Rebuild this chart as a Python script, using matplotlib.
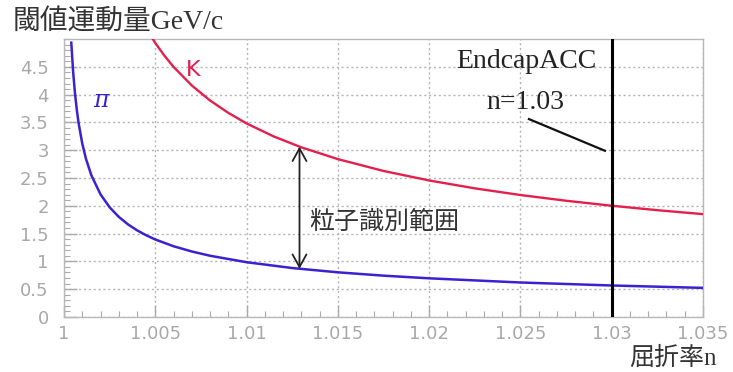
import matplotlib

matplotlib.use("Agg")
import matplotlib.pyplot as plt
from matplotlib.ticker import MultipleLocator, FuncFormatter

JP = ["Liberation Serif", "Noto Sans CJK JP"]

# 屈折率 n と閾値運動量 (GeV/c), 図から読み取り
n_pi = [1.0004, 1.0005, 1.0006, 1.0007, 1.0008, 1.001, 1.0012, 1.0015, 1.002,
        1.0025, 1.003, 1.0035, 1.004, 1.0045, 1.005, 1.006, 1.007, 1.008, 1.010,
        1.0125, 1.015, 1.0175, 1.02, 1.025, 1.03, 1.035]
p_pi = [4.935, 4.414, 4.029, 3.730, 3.489, 3.121, 2.849, 2.548, 2.206,
        1.973, 1.801, 1.667, 1.559, 1.470, 1.394, 1.272, 1.178, 1.101, 0.985,
        0.880, 0.803, 0.743, 0.695, 0.620, 0.566, 0.523]

n_k = [1.0048, 1.005, 1.0055, 1.006, 1.007, 1.008, 1.009, 1.010, 1.0115,
       1.013, 1.015, 1.0175, 1.02, 1.0225, 1.025, 1.0275, 1.03, 1.0325, 1.035]
p_k = [5.033, 4.931, 4.701, 4.500, 4.165, 3.895, 3.672, 3.482, 3.246,
       3.052, 2.840, 2.627, 2.456, 2.314, 2.194, 2.091, 2.001, 1.921, 1.850]

y_ticks = [0, 0.5, 1, 1.5, 2, 2.5, 3, 3.5, 4, 4.5]

n_acc = 1.03
n_range = 1.0129          # 粒子識別範囲の矢印位置
range_lo, range_hi = 0.866, 3.064

fig = plt.figure(figsize=(7.33, 3.72), dpi=100)
ax = fig.add_axes([0.0873, 0.148, 0.8717, 0.747])
ax.set_xlim(1.0, 1.035)
ax.set_ylim(0, 5.0)

ax.plot(n_pi, p_pi, color="#3a22d0", lw=1.8, zorder=3)
ax.plot(n_k, p_k, color="#e41f4c", lw=1.7, zorder=3)
ax.axvline(n_acc, color="black", lw=2.2, zorder=4)

# 軸まわり (ROOT 風)
ax.xaxis.set_major_locator(MultipleLocator(0.005))
ax.xaxis.set_minor_locator(MultipleLocator(0.001))
ax.yaxis.set_minor_locator(MultipleLocator(0.1))
ax.set_yticks(y_ticks)
ax.xaxis.set_major_formatter(FuncFormatter(
    lambda v, _: f"{v:.3f}".rstrip("0").rstrip(".")))
ax.yaxis.set_major_formatter(FuncFormatter(lambda v, _: f"{v:g}"))
ax.tick_params(which="both", direction="in", top=False, right=False,
               colors="#aaaaaa", labelcolor="#a8a8a8", labelsize=13)
ax.tick_params(which="major", length=9, width=1.0)
ax.tick_params(which="minor", length=4.5, width=0.8)
ax.tick_params(axis="y", pad=11)
ax.tick_params(axis="x", pad=6)
for s in ax.spines.values():
    s.set_color("#b8b8b8")
    s.set_linewidth(1.0)
ax.grid(True, which="major", color="#b4b4b4", ls=(0, (1.5, 2.0)), lw=1.0)

# ラベル
ax.text(1.0016, 3.9, "π", color="#3a22d0", fontsize=17, style="italic",
        family=["DejaVu Serif"], ha="left", va="center")
ax.text(1.0067, 4.45, "K", color="#e41f4c", fontsize=16, ha="left",
        va="center")
ax.text(1.0253, 4.6, "EndcapACC", fontsize=20, family=JP, color="#222222",
        ha="center", va="center")
ax.text(1.0253, 3.85, "n=1.03", fontsize=20, family=JP, color="#222222",
        ha="center", va="center")
ax.plot([1.02547, 1.02963], [3.56, 2.99], color="#111111", lw=1.6)

ax.annotate("", xy=(n_range, range_hi), xytext=(n_range, range_lo),
            arrowprops=dict(arrowstyle="<->,head_length=0.9,head_width=0.5",
                            color="#222222", lw=1.3, shrinkA=0, shrinkB=0))
ax.text(1.01345, 1.71, "粒子識別範囲", fontsize=18, family=JP,
        color="#333333", ha="left", va="center")

fig.text(0.017, 1 - 23 / 372, "閾値運動量GeV/c", fontsize=20, family=JP,
         color="#333333", ha="left", va="center")
fig.text(717 / 733, 1 - 358 / 372, "屈折率n", fontsize=18, family=JP,
         color="#333333", ha="right", va="center")

fig.savefig("out.png", dpi=100)
